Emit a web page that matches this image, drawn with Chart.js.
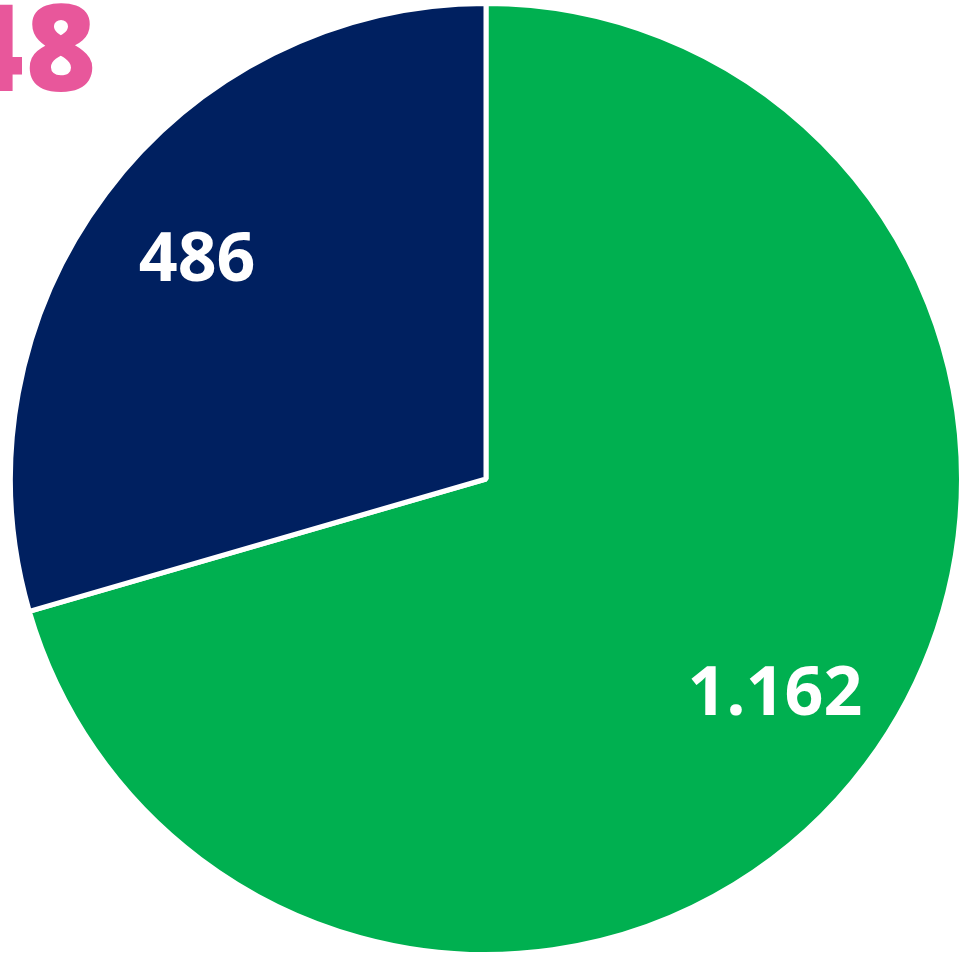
<!DOCTYPE html>
<html>
<head>
<meta charset="utf-8">
<script src="https://cdn.jsdelivr.net/npm/chart.js@4"></script>
<style>
    html, body { margin: 0; padding: 0; background: #ffffff; }
    body { width: 969px; height: 960px; position: relative; overflow: hidden; }
    #wrap { position: absolute; left: 8px; top: 1px; width: 956px; height: 956px; }
    #title {
        position: absolute; right: calc(969px - 98px); top: -37px;
        font-family: "Open Sans", sans-serif; font-weight: 800; font-size: 120px;
        color: #e8579b; white-space: nowrap; letter-spacing: 2px;
    }
</style>
</head>
<body>
<div id="wrap"><canvas id="pieChart"></canvas></div>
<div id="title">48</div>
<script>
// Data
const categories = ['Verde', 'Azul'];
const values = [1162, 486];
const colors = ['#00b050', '#002060'];

// thousands with a dot, like the source
function formatNumber(v) {
    return String(v).replace(/\B(?=(\d{3})+(?!\d))/g, '.');
}

// draw the values inside each slice
const sliceLabels = {
    id: 'sliceLabels',
    afterDatasetsDraw(chart) {
        const ctx = chart.ctx;
        const meta = chart.getDatasetMeta(0);
        ctx.save();
        ctx.fillStyle = '#ffffff';
        ctx.font = 'bold 68px "Open Sans", sans-serif';
        ctx.textAlign = 'center';
        ctx.textBaseline = 'middle';
        meta.data.forEach((arc, i) => {
            const mid = (arc.startAngle + arc.endAngle) / 2;
            const r = arc.outerRadius * 0.76;
            const x = arc.x + Math.cos(mid) * r;
            const y = arc.y + Math.sin(mid) * r;
            ctx.fillText(formatNumber(values[i]), x, y);
        });
        ctx.restore();
    }
};

document.addEventListener('DOMContentLoaded', function() {
    const ctx = document.getElementById('pieChart').getContext('2d');
    new Chart(ctx, {
        type: 'pie',
        data: {
            labels: categories,
            datasets: [{
                data: values,
                backgroundColor: colors,
                borderColor: '#ffffff',
                borderWidth: 5
            }]
        },
        options: {
            responsive: true,
            maintainAspectRatio: false,
            animation: false,
            layout: { padding: 0 },
            plugins: {
                legend: { display: false },
                tooltip: { enabled: false }
            }
        },
        plugins: [sliceLabels]
    });
});
</script>
</body>
</html>
